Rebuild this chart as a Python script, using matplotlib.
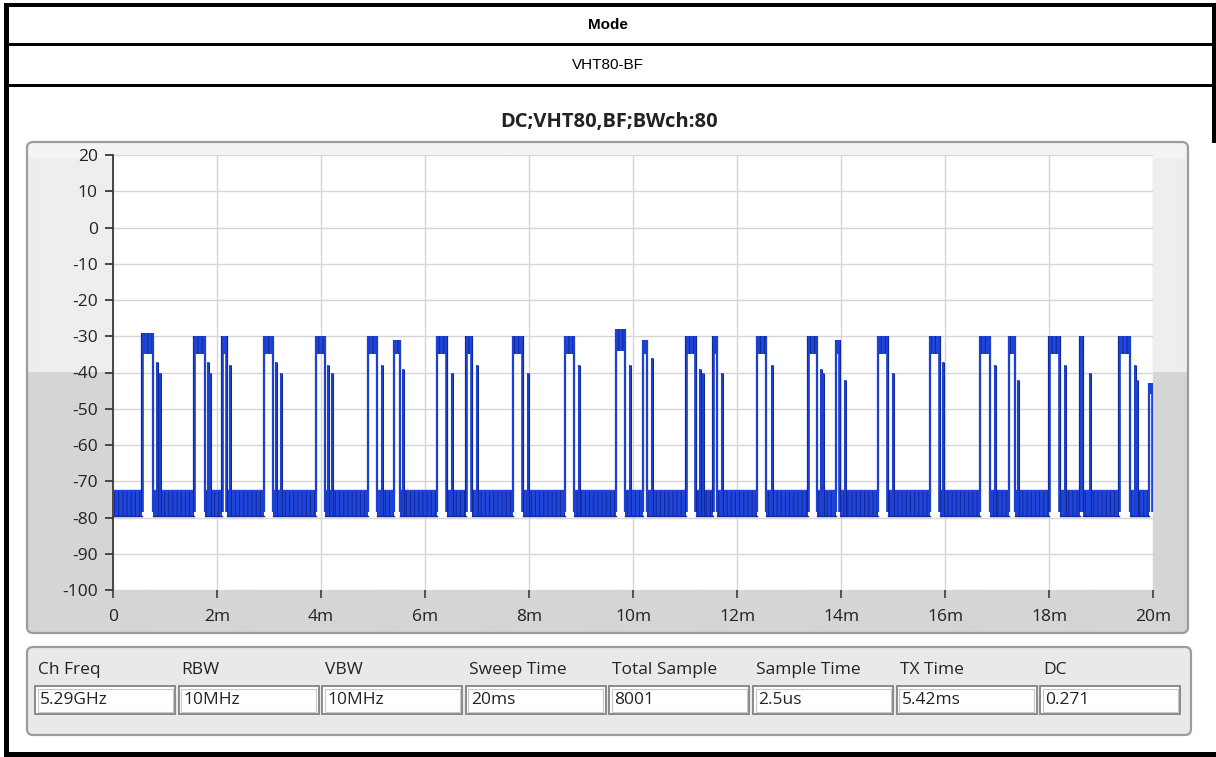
import matplotlib
matplotlib.use("Agg")
import matplotlib.pyplot as plt
import numpy as np
from matplotlib.patches import Rectangle, FancyBboxPatch

# ---------------- data ----------------
x_tick_values = [0, 2, 4, 6, 8, 10, 12, 14, 16, 18, 20]          # ms
x_tick_labels = ["0", "2m", "4m", "6m", "8m", "10m", "12m", "14m", "16m", "18m", "20m"]
y_tick_values = [20, 10, 0, -10, -20, -30, -40, -50, -60, -70, -80, -90, -100]

# main bursts: start / end (ms) and peak level (dBm)
burst_start_ms = [0.56, 1.56, 2.10, 2.90, 3.90, 4.90, 5.40, 6.23, 6.79, 7.69, 8.69, 9.67, 10.19,
                  11.02, 11.54, 12.38, 13.37, 13.90, 14.71, 15.71, 16.67, 17.23, 18.00, 18.60,
                  19.35, 19.92]
burst_end_ms = [0.77, 1.77, 2.19, 3.08, 4.08, 5.08, 5.52, 6.42, 6.90, 7.88, 8.87, 9.85, 10.27,
                11.21, 11.62, 12.56, 13.54, 13.98, 14.90, 15.90, 16.87, 17.35, 18.21, 18.65,
                19.56, 20.00]
burst_peak_db = [-29, -30, -30, -30, -30, -30, -31, -30, -30, -30, -30, -28, -31,
                 -30, -30, -30, -30, -31, -30, -30, -30, -30, -30, -30, -30, -43]
burst_floor_db = [-35, -35, -35, -35, -35, -35, -35, -35, -35, -35, -35, -34, -35,
                  -35, -35, -35, -35, -35, -35, -35, -35, -35, -35, -35, -35, -46]

# short spikes following the bursts: time (ms) and top level (dBm)
spike_ms = [0.85, 0.90, 1.83, 1.87, 2.25, 3.13, 3.23, 4.13, 4.21, 5.17, 5.58, 6.52, 7.00,
            7.98, 8.96, 9.94, 10.37, 11.29, 11.35, 11.71, 12.67, 13.62, 13.65, 14.08, 15.00,
            15.96, 16.96, 17.40, 18.31, 18.79, 19.65, 19.69]
spike_top_db = [-37, -40, -37, -40, -38, -37, -40, -38, -40, -38, -39, -40, -38,
                -40, -38, -38, -36, -39, -40, -40, -38, -39, -40, -42, -40,
                -37, -38, -42, -38, -40, -38, -42]

# noise floor band (dBm)
noise_floor_low_db = -79.5
noise_floor_high_db = -72.5

# info panel
info_labels = ["Ch Freq", "RBW", "VBW", "Sweep Time", "Total Sample", "Sample Time", "TX Time", "DC"]
info_values = ["5.29GHz", "10MHz", "10MHz", "20ms", "8001", "2.5us", "5.42ms", "0.271"]

header_title = "Mode"
header_value = "VHT80-BF"
chart_title = "DC;VHT80,BF;BWch:80"

# ---------------- figure ----------------
W, H = 1216, 757
plt.rcParams["hatch.linewidth"] = 0.7
plt.rcParams["hatch.color"] = "#0d2290"
fig = plt.figure(figsize=(W / 100, H / 100), dpi=100)
fig.patch.set_facecolor("white")

bg = fig.add_axes([0, 0, 1, 1])
bg.set_xlim(0, W)
bg.set_ylim(H, 0)
bg.axis("off")

UI = "Open Sans"

# outer table borders
black = "black"
bg.add_patch(Rectangle((4, 3), 5, H - 3, color=black, lw=0))          # left
bg.add_patch(Rectangle((4, 3), W - 4, 4, color=black, lw=0))          # top
bg.add_patch(Rectangle((4, 43), W - 4, 3, color=black, lw=0))         # row line 1
bg.add_patch(Rectangle((4, 84), W - 4, 3, color=black, lw=0))         # row line 2
bg.add_patch(Rectangle((W - 4, 3), 4, 140, color=black, lw=0))        # right
bg.add_patch(Rectangle((4, H - 5), W - 4, 5, color=black, lw=0))      # bottom

bg.text(608, 25, header_title, ha="center", va="center", fontsize=11,
        fontweight="bold", family="Liberation Sans")
bg.text(608, 65, header_value, ha="center", va="center", fontsize=11,
        family="Liberation Sans")
bg.text(609, 122, chart_title, ha="center", va="center", fontsize=14.5,
        fontweight="bold", family=UI, color="#222222")

# graph panel with two-tone "glass" background
px0, px1, py0, py1 = 27, 1188, 142, 633
ny = py1 - py0
rows = np.arange(ny)
split = 372 - py0
grad = np.where(rows < split, 0.93, 0.835)[:, None] * np.ones((1, 2))
grad[:16, :] = 0.955
panel = FancyBboxPatch((px0, py0), px1 - px0, py1 - py0,
                       boxstyle="round,pad=0,rounding_size=6",
                       fc="none", ec="#9c9c9c", lw=1.6, zorder=3)
im = bg.imshow(grad, extent=(px0, px1, py1, py0), cmap="gray", vmin=0, vmax=1,
               aspect="auto", interpolation="bilinear", zorder=1)
bg.add_patch(panel)
im.set_clip_path(panel)
bg.set_xlim(0, W)
bg.set_ylim(H, 0)

# info panel
ip = FancyBboxPatch((27, 647), 1164, 88, boxstyle="round,pad=0,rounding_size=6",
                    fc="#e9e9e9", ec="#9c9c9c", lw=1.6, zorder=1)
bg.add_patch(ip)
box_x0 = 35
box_step = 143.6
box_w = 140
for i, (lab, val) in enumerate(zip(info_labels, info_values)):
    bx = box_x0 + i * box_step
    bg.text(bx + 3, 670, lab, ha="left", va="center", fontsize=12.5, family=UI,
            color="#222222", zorder=4)
    bg.add_patch(Rectangle((bx, 686), box_w, 28, fc="white", ec="#8a8a8a", lw=1.4, zorder=3))
    bg.add_patch(Rectangle((bx + 2.5, 688.5), box_w - 5, 23, fc="none", ec="#c8c8c8", lw=0.8, zorder=3))
    bg.text(bx + 5, 700, val, ha="left", va="center", fontsize=12.5, family=UI,
            color="#222222", zorder=4)

# ---------------- plot axes ----------------
ax = fig.add_axes([113 / W, 1 - 590 / H, 1040 / W, 435 / H])
ax.set_facecolor("white")
ax.set_xlim(0, 20)
ax.set_ylim(-100, 20)

ax.set_xticks(x_tick_values)
ax.set_xticklabels(x_tick_labels)
ax.set_yticks(y_tick_values)
ax.set_yticklabels([str(v) for v in y_tick_values])
ax.grid(True, color="#d6d6d6", lw=1.0)
ax.set_axisbelow(True)
for s in ["top", "right", "bottom"]:
    ax.spines[s].set_visible(False)
ax.spines["left"].set_color("#3a3a3a")
ax.spines["left"].set_linewidth(1.3)
ax.tick_params(axis="y", direction="out", length=6, width=1.3, color="#3a3a3a",
               labelsize=12.5, labelcolor="#222222", pad=5)
ax.tick_params(axis="x", direction="out", length=6, width=1.2, color="#3a3a3a",
               labelsize=12.5, labelcolor="#222222", pad=8)
for lab in ax.get_xticklabels() + ax.get_yticklabels():
    lab.set_family(UI)

trace = "#1f45da"
edge = "#10289a"

# noise floor between bursts
gap_start = [0.0] + burst_end_ms[:-1]
gap_end = burst_start_ms
for a, b in zip(gap_start, gap_end):
    if b > a:
        ax.fill_between([a, b], noise_floor_low_db, noise_floor_high_db,
                        facecolor=trace, edgecolor=edge, hatch="||||", lw=0, zorder=3)
        ax.plot([a, b], [noise_floor_low_db, noise_floor_low_db], color=edge, lw=1.0, zorder=3)
        ax.plot([a, b], [noise_floor_high_db, noise_floor_high_db], color=trace, lw=1.0, zorder=3)

# bursts
for s, e, pk, fl in zip(burst_start_ms, burst_end_ms, burst_peak_db, burst_floor_db):
    ax.fill_between([s, e], fl, pk, facecolor=trace, edgecolor=edge, hatch="||||", lw=0, zorder=4)
    ax.vlines([s, e], noise_floor_low_db + 1, pk, color=edge, lw=1.6, zorder=4)
    ax.vlines([s + 0.01, e - 0.01], noise_floor_low_db + 1, pk, color=trace, lw=1.2, zorder=4)

# spikes
ax.vlines(spike_ms, noise_floor_low_db, spike_top_db, color=edge, lw=2.2, zorder=4)
ax.vlines(spike_ms, noise_floor_low_db, spike_top_db, color=trace, lw=1.2, zorder=4)

fig.savefig("out.png", dpi=100, facecolor="white")
